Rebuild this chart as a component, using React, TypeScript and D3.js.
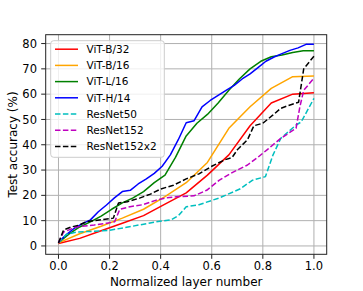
import React from "react";
import * as d3 from "d3";

const W = 363;
const H = 291;

const xTicks = [0.0, 0.2, 0.4, 0.6, 0.8, 1.0];
const yTicks = [0, 10, 20, 30, 40, 50, 60, 70, 80];

const vitB32X = [0, 0.083, 0.167, 0.25, 0.333, 0.417, 0.5, 0.583, 0.667, 0.75, 0.833, 0.917, 1.0];
const vitB32Y = [1, 3, 6, 9, 12, 16.5, 21, 28, 36, 47.5, 56.5, 60, 60.6];

const vitB16X = [0, 0.083, 0.167, 0.25, 0.333, 0.417, 0.5, 0.583, 0.667, 0.75, 0.833, 0.917, 1.0];
const vitB16Y = [1.2, 4.8, 7.8, 11, 14.5, 19.5, 25, 33, 46.5, 55, 62.3, 66.9, 67.2];

const vitL16X = [0, 0.042, 0.083, 0.125, 0.167, 0.208, 0.25, 0.292, 0.333, 0.375, 0.417, 0.458, 0.5,
  0.542, 0.583, 0.625, 0.667, 0.708, 0.75, 0.792, 0.833, 0.875, 0.917, 0.958, 1.0];
const vitL16Y = [1.3, 4.8, 7.5, 9.5, 11.8, 14.5, 17, 19, 21.5, 25, 28, 35, 43.5,
  48.5, 52, 56.5, 61.5, 66, 70, 73, 74.8, 75.5, 76.5, 77.2, 77.2];

const vitH14X = [0, 0.031, 0.062, 0.094, 0.125, 0.156, 0.188, 0.219, 0.25, 0.281, 0.312, 0.344, 0.375,
  0.406, 0.438, 0.469, 0.5, 0.531, 0.562, 0.594, 0.625, 0.656, 0.688, 0.719, 0.75, 0.781, 0.812,
  0.844, 0.875, 0.906, 0.938, 0.969, 1.0];
const vitH14Y = [1.5, 4.5, 7, 8.8, 10.3, 13.5, 16.2, 19, 21.5, 22, 24.5, 26.5, 28.7,
  31.5, 36, 42, 48.7, 49.5, 55, 57.5, 59.5, 61.5, 63.5, 66, 68, 70.5, 73,
  74.7, 76, 77.3, 78.3, 79.7, 79.7];

const resnet50X = [0, 0.03, 0.07, 0.14, 0.2, 0.29, 0.38, 0.44, 0.47, 0.5, 0.55, 0.63, 0.71, 0.76, 0.81, 0.84, 0.87, 0.93, 0.95, 1.0];
const resnet50Y = [1.2, 4.5, 5.5, 5.8, 6.2, 7.8, 9.5, 10.3, 12, 15.5, 16.3, 19, 22.5, 26, 27.4, 36, 42.5, 47.8, 49, 58.3];

const resnet152X = [0, 0.02, 0.07, 0.14, 0.19, 0.22, 0.24, 0.28, 0.33, 0.38, 0.42, 0.47, 0.53, 0.58, 0.63, 0.68, 0.74, 0.78, 0.82, 0.87, 0.93, 0.945, 0.96, 1.0];
const resnet152Y = [1.2, 5.5, 7.5, 8.3, 9, 9.6, 14.5, 15.5, 16.3, 18, 19, 19.5, 19.8, 22, 26, 29, 32, 35, 38.3, 42.5, 46.5, 55, 61.5, 66.3];

const resnet152x2X = [0, 0.02, 0.05, 0.08, 0.11, 0.16, 0.215, 0.235, 0.27, 0.32, 0.36, 0.4, 0.45, 0.5, 0.55, 0.6, 0.65, 0.68, 0.7, 0.74, 0.765, 0.8, 0.84, 0.87, 0.9, 0.94, 0.96, 1.0];
const resnet152x2Y = [1.2, 6.3, 7.5, 8.2, 9.6, 10.3, 11, 17, 17.5, 19, 20.5, 22.5, 24, 26.5, 28.5, 31.5, 34, 35, 38, 42, 47.5, 48.5, 51.8, 54.4, 55.5, 56.8, 70, 75];

const seriesNames = ["ViT-B/32", "ViT-B/16", "ViT-L/16", "ViT-H/14", "ResNet50", "ResNet152", "ResNet152x2"];
const seriesColors = ["#ff0000", "#ffa500", "#008000", "#0000ff", "#00bfbf", "#bf00bf", "#000000"];
const seriesDashed = [false, false, false, false, true, true, true];
const seriesX = [vitB32X, vitB16X, vitL16X, vitH14X, resnet50X, resnet152X, resnet152x2X];
const seriesY = [vitB32Y, vitB16Y, vitL16Y, vitH14Y, resnet50Y, resnet152Y, resnet152x2Y];

export default function App() {
  const left = 45.7, right = 326.7, top = 34.7, bottom = 254.3;
  const x = d3.scaleLinear().domain([-0.05, 1.05]).range([left, right]);
  const y = d3.scaleLinear().domain([-3.3, 83.5]).range([bottom, top]);
  const line = d3.line<[number, number]>().x(d => x(d[0])).y(d => y(d[1]));
  const font = "'DejaVu Sans', sans-serif";

  const legX = 50.7, legY = 40.7, legW = 113.6, legH = 116.6;
  const rowY0 = 49.2, rowStep = 16.2;

  return (
    <svg width={W} height={H} style={{ position: "absolute", left: 0, top: 0, background: "#fff" }} fontFamily={font}>
      <rect x={0} y={0} width={W} height={H} fill="#fff" />
      <g>
        {xTicks.map(t => (
          <line key={"gx" + t} x1={x(t)} x2={x(t)} y1={top} y2={bottom} stroke="#b0b0b0" strokeWidth={1} />
        ))}
        {yTicks.map(t => (
          <line key={"gy" + t} x1={left} x2={right} y1={y(t)} y2={y(t)} stroke="#b0b0b0" strokeWidth={1} />
        ))}
      </g>
      <g>
        {seriesNames.map((n, i) => (
          <path key={n} d={line(seriesX[i].map((v, j) => [v, seriesY[i][j]] as [number, number])) || ""}
            fill="none" stroke={seriesColors[i]} strokeWidth={1.5}
            strokeDasharray={seriesDashed[i] ? "5.5,2.4" : undefined} strokeLinejoin="round" />
        ))}
      </g>
      <rect x={left} y={top} width={right - left} height={bottom - top} fill="none" stroke="#222" strokeWidth={1} />
      <g fontSize={11.5} fill="#000">
        {xTicks.map(t => (
          <g key={"tx" + t}>
            <line x1={x(t)} x2={x(t)} y1={bottom} y2={bottom + 4.5} stroke="#222" strokeWidth={1} />
            <text x={x(t)} y={270} textAnchor="middle">{d3.format(".1f")(t)}</text>
          </g>
        ))}
        {yTicks.map(t => (
          <g key={"ty" + t}>
            <line x1={left - 4.5} x2={left} y1={y(t)} y2={y(t)} stroke="#222" strokeWidth={1} />
            <text x={37} y={y(t)} dy="0.36em" textAnchor="end">{t}</text>
          </g>
        ))}
      </g>
      <text x={(left + right) / 2} y={286} textAnchor="middle" fontSize={12}>Normalized layer number</text>
      <text transform={`translate(17, ${(top + bottom) / 2}) rotate(-90)`} textAnchor="middle" fontSize={12}>Test accuracy (%)</text>
      <g>
        <rect x={legX} y={legY} width={legW} height={legH} rx={3} fill="#fff" fillOpacity={0.8} stroke="#cccccc" strokeWidth={1} />
        {seriesNames.map((n, i) => (
          <g key={"l" + n}>
            <line x1={55} x2={78} y1={rowY0 + i * rowStep} y2={rowY0 + i * rowStep}
              stroke={seriesColors[i]} strokeWidth={1.5} strokeDasharray={seriesDashed[i] ? "5.5,2.4" : undefined} />
            <text x={86.5} y={rowY0 + i * rowStep} dy="0.36em" fontSize={10.5}>{n}</text>
          </g>
        ))}
      </g>
    </svg>
  );
}
